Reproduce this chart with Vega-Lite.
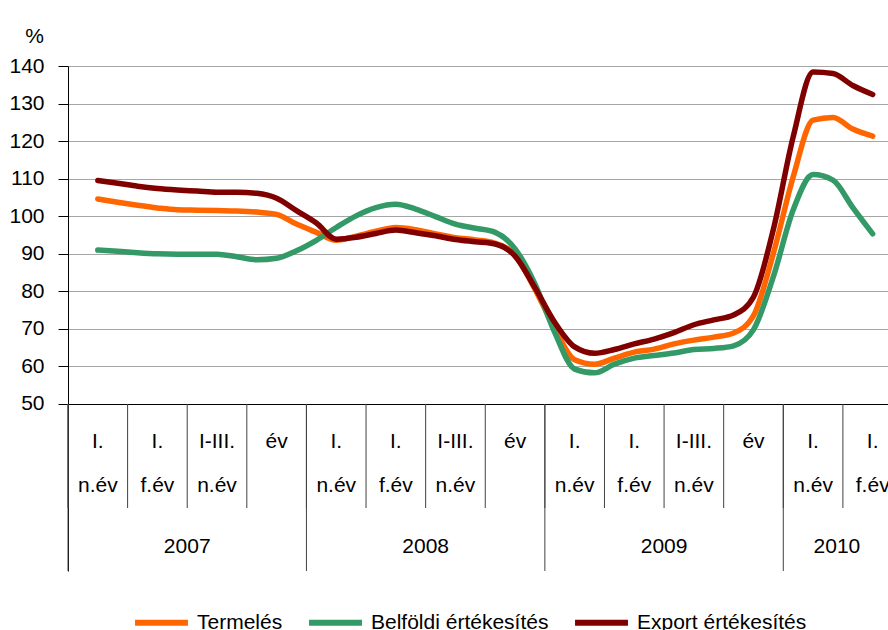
{
  "$schema": "https://vega.github.io/schema/vega-lite/v6.json",
  "width": 820,
  "height": 505,
  "autosize": {"type": "none"},
  "padding": {"left": 68, "top": 66, "right": 0, "bottom": 59},
  "background": "white",
  "config": {
    "view": {"stroke": null},
    "font": "Liberation Sans, Arial, sans-serif"
  },
  "datasets": {
    "series": [
      {"month":0,"series":"Termelés","value":104.6},{"month":1,"series":"Termelés","value":103.7},{"month":2,"series":"Termelés","value":102.9},{"month":3,"series":"Termelés","value":102.2},{"month":4,"series":"Termelés","value":101.7},{"month":5,"series":"Termelés","value":101.6},{"month":6,"series":"Termelés","value":101.5},{"month":7,"series":"Termelés","value":101.4},{"month":8,"series":"Termelés","value":101.1},{"month":9,"series":"Termelés","value":100.5},{"month":10,"series":"Termelés","value":97.9},{"month":11,"series":"Termelés","value":95.7},{"month":12,"series":"Termelés","value":93.6},{"month":13,"series":"Termelés","value":94.7},{"month":14,"series":"Termelés","value":96.0},{"month":15,"series":"Termelés","value":97.0},{"month":16,"series":"Termelés","value":96.4},{"month":17,"series":"Termelés","value":95.3},{"month":18,"series":"Termelés","value":94.3},{"month":19,"series":"Termelés","value":93.7},{"month":20,"series":"Termelés","value":92.8},{"month":21,"series":"Termelés","value":89.6},{"month":22,"series":"Termelés","value":80.6},{"month":23,"series":"Termelés","value":70.1},{"month":24,"series":"Termelés","value":61.8},{"month":25,"series":"Termelés","value":60.6},{"month":26,"series":"Termelés","value":62.2},{"month":27,"series":"Termelés","value":63.8},{"month":28,"series":"Termelés","value":64.6},{"month":29,"series":"Termelés","value":66.0},{"month":30,"series":"Termelés","value":67.0},{"month":31,"series":"Termelés","value":67.8},{"month":32,"series":"Termelés","value":68.9},{"month":33,"series":"Termelés","value":73.5},{"month":34,"series":"Termelés","value":90.1},{"month":35,"series":"Termelés","value":110.5},{"month":36,"series":"Termelés","value":125.6},{"month":37,"series":"Termelés","value":126.3},{"month":38,"series":"Termelés","value":123.2},{"month":39,"series":"Termelés","value":121.3},
      {"month":0,"series":"Belföldi értékesítés","value":91.0},{"month":1,"series":"Belföldi értékesítés","value":90.7},{"month":2,"series":"Belföldi értékesítés","value":90.3},{"month":3,"series":"Belföldi értékesítés","value":90.0},{"month":4,"series":"Belföldi értékesítés","value":89.9},{"month":5,"series":"Belföldi értékesítés","value":89.9},{"month":6,"series":"Belföldi értékesítés","value":89.9},{"month":7,"series":"Belföldi értékesítés","value":89.2},{"month":8,"series":"Belföldi értékesítés","value":88.4},{"month":9,"series":"Belföldi értékesítés","value":88.8},{"month":10,"series":"Belföldi értékesítés","value":90.8},{"month":11,"series":"Belföldi értékesítés","value":93.6},{"month":12,"series":"Belföldi értékesítés","value":97.0},{"month":13,"series":"Belföldi értékesítés","value":100.1},{"month":14,"series":"Belföldi értékesítés","value":102.3},{"month":15,"series":"Belföldi értékesítés","value":103.2},{"month":16,"series":"Belföldi értékesítés","value":101.9},{"month":17,"series":"Belföldi értékesítés","value":99.9},{"month":18,"series":"Belföldi értékesítés","value":97.9},{"month":19,"series":"Belföldi értékesítés","value":96.8},{"month":20,"series":"Belföldi értékesítés","value":95.7},{"month":21,"series":"Belföldi értékesítés","value":91.3},{"month":22,"series":"Belföldi értékesítés","value":82.0},{"month":23,"series":"Belföldi értékesítés","value":69.0},{"month":24,"series":"Belföldi értékesítés","value":59.3},{"month":25,"series":"Belföldi értékesítés","value":58.3},{"month":26,"series":"Belföldi értékesítés","value":60.6},{"month":27,"series":"Belföldi értékesítés","value":62.2},{"month":28,"series":"Belföldi értékesítés","value":62.9},{"month":29,"series":"Belföldi értékesítés","value":63.6},{"month":30,"series":"Belföldi értékesítés","value":64.5},{"month":31,"series":"Belföldi értékesítés","value":64.8},{"month":32,"series":"Belföldi értékesítés","value":65.5},{"month":33,"series":"Belföldi értékesítés","value":69.8},{"month":34,"series":"Belföldi értékesítés","value":83.9},{"month":35,"series":"Belföldi értékesítés","value":101.7},{"month":36,"series":"Belföldi értékesítés","value":111.1},{"month":37,"series":"Belföldi értékesítés","value":109.6},{"month":38,"series":"Belföldi értékesítés","value":102.3},{"month":39,"series":"Belföldi értékesítés","value":95.3},
      {"month":0,"series":"Export értékesítés","value":109.5},{"month":1,"series":"Export értékesítés","value":108.8},{"month":2,"series":"Export értékesítés","value":108.0},{"month":3,"series":"Export értékesítés","value":107.4},{"month":4,"series":"Export értékesítés","value":107.0},{"month":5,"series":"Export értékesítés","value":106.7},{"month":6,"series":"Export értékesítés","value":106.4},{"month":7,"series":"Export értékesítés","value":106.4},{"month":8,"series":"Export értékesítés","value":106.1},{"month":9,"series":"Export értékesítés","value":104.8},{"month":10,"series":"Export értékesítés","value":101.5},{"month":11,"series":"Export értékesítés","value":98.2},{"month":12,"series":"Export értékesítés","value":93.9},{"month":13,"series":"Export értékesítés","value":94.4},{"month":14,"series":"Export értékesítés","value":95.4},{"month":15,"series":"Export értékesítés","value":96.3},{"month":16,"series":"Export értékesítés","value":95.6},{"month":17,"series":"Export értékesítés","value":94.8},{"month":18,"series":"Export értékesítés","value":93.8},{"month":19,"series":"Export értékesítés","value":93.2},{"month":20,"series":"Export értékesítés","value":92.6},{"month":21,"series":"Export értékesítés","value":89.4},{"month":22,"series":"Export értékesítés","value":81.0},{"month":23,"series":"Export értékesítés","value":71.7},{"month":24,"series":"Export értékesítés","value":65.2},{"month":25,"series":"Export értékesítés","value":63.5},{"month":26,"series":"Export értékesítés","value":64.5},{"month":27,"series":"Export értékesítés","value":66.0},{"month":28,"series":"Export értékesítés","value":67.3},{"month":29,"series":"Export értékesítés","value":69.0},{"month":30,"series":"Export értékesítés","value":71.1},{"month":31,"series":"Export értékesítés","value":72.4},{"month":32,"series":"Export értékesítés","value":73.7},{"month":33,"series":"Export értékesítés","value":78.5},{"month":34,"series":"Export értékesítés","value":96.5},{"month":35,"series":"Export értékesítés","value":121.2},{"month":36,"series":"Export értékesítés","value":138.4},{"month":37,"series":"Export értékesítés","value":138.0},{"month":38,"series":"Export értékesítés","value":134.8},{"month":39,"series":"Export értékesítés","value":132.4}
    ],
    "cats": [
      {"month":0,"from":-1.5,"label":"I.\nn.év"},
      {"month":3,"from":1.5,"label":"I.\nf.év"},
      {"month":6,"from":4.5,"label":"I-III.\nn.év"},
      {"month":9,"from":7.5,"label":"év"},
      {"month":12,"from":10.5,"label":"I.\nn.év"},
      {"month":15,"from":13.5,"label":"I.\nf.év"},
      {"month":18,"from":16.5,"label":"I-III.\nn.év"},
      {"month":21,"from":19.5,"label":"év"},
      {"month":24,"from":22.5,"label":"I.\nn.év"},
      {"month":27,"from":25.5,"label":"I.\nf.év"},
      {"month":30,"from":28.5,"label":"I-III.\nn.év"},
      {"month":33,"from":31.5,"label":"év"},
      {"month":36,"from":34.5,"label":"I.\nn.év"},
      {"month":39,"from":37.5,"label":"I.\nf.év"}
    ],
    "years": [
      {"year":"2007","from":-1.5,"mid":4.5},
      {"year":"2008","from":10.5,"mid":16.5},
      {"year":"2009","from":22.5,"mid":28.5},
      {"year":"2010","from":34.5,"mid":37.2}
    ]
  },
  "layer": [
    {
      "data": {"name": "series"},
      "transform": [{"filter": "datum.series === 'Termelés'"}],
      "mark": {"type": "line", "strokeWidth": 5.5, "interpolate": "monotone", "strokeCap": "round"},
      "encoding": {
        "x": {"field": "month", "type": "quantitative", "scale": {"domain": [-1.5, 39.77], "nice": false, "zero": false}, "axis": null},
        "y": {
          "field": "value", "type": "quantitative",
          "scale": {"domain": [5.53, 140], "nice": false, "zero": false},
          "axis": {
            "values": [50, 60, 70, 80, 90, 100, 110, 120, 130, 140],
            "grid": true,
            "gridColor": {"condition": {"test": "datum.value === 50", "value": "black"}, "value": "#a6a6a6"},
            "gridWidth": 1,
            "domainColor": "black",
            "domainWidth": 1,
            "tickColor": "black",
            "tickSize": 10,
            "labelFontSize": 21,
            "labelColor": "black",
            "labelPadding": 14,
            "title": "%",
            "titleAngle": 0,
            "titleX": -34,
            "titleY": -24,
            "titleAlign": "center",
            "titleBaseline": "alphabetic",
            "titleFontSize": 21,
            "titleFontWeight": "normal",
            "titleColor": "black"
          }
        },
        "color": {
          "field": "series", "type": "nominal",
          "scale": {"domain": ["Termelés", "Belföldi értékesítés", "Export értékesítés"], "range": ["#FF6600", "#339966", "#800000"]},
          "legend": {
            "title": null,
            "orient": "none",
            "direction": "horizontal",
            "legendX": 64,
            "legendY": 527,
            "symbolType": "stroke",
            "symbolSize": 2800,
            "symbolStrokeWidth": 6,
            "labelFontSize": 21,
            "labelColor": "black",
            "labelOffset": 6,
            "columnPadding": 14,
            "labelLimit": 400
          }
        }
      }
    },
    {
      "data": {"name": "series"},
      "transform": [{"filter": "datum.series === 'Belföldi értékesítés'"}],
      "mark": {"type": "line", "strokeWidth": 5.5, "interpolate": "monotone", "strokeCap": "round"},
      "encoding": {
        "x": {"field": "month", "type": "quantitative", "axis": null},
        "y": {"field": "value", "type": "quantitative"},
        "color": {"field": "series", "type": "nominal"}
      }
    },
    {
      "data": {"name": "series"},
      "transform": [{"filter": "datum.series === 'Export értékesítés'"}],
      "mark": {"type": "line", "strokeWidth": 5.5, "interpolate": "monotone", "strokeCap": "round"},
      "encoding": {
        "x": {"field": "month", "type": "quantitative", "axis": null},
        "y": {"field": "value", "type": "quantitative"},
        "color": {"field": "series", "type": "nominal"}
      }
    },
    {
      "data": {"name": "cats"},
      "mark": {"type": "rule", "color": "#404040", "strokeWidth": 1},
      "encoding": {
        "x": {"field": "from", "type": "quantitative", "axis": null},
        "y": {"datum": 50, "type": "quantitative"},
        "y2": {"datum": 22.3}
      }
    },
    {
      "data": {"name": "years"},
      "mark": {"type": "rule", "color": "#404040", "strokeWidth": 1},
      "encoding": {
        "x": {"field": "from", "type": "quantitative", "axis": null},
        "y": {"datum": 50, "type": "quantitative"},
        "y2": {"datum": 5.53}
      }
    },
    {
      "data": {"name": "cats"},
      "mark": {"type": "text", "fontSize": 21, "color": "black", "align": "center", "baseline": "alphabetic", "lineBreak": "\n", "lineHeight": 44},
      "encoding": {
        "x": {"field": "month", "type": "quantitative", "axis": null},
        "y": {"datum": 38.3, "type": "quantitative"},
        "text": {"field": "label"}
      }
    },
    {
      "data": {"name": "years"},
      "mark": {"type": "text", "fontSize": 21, "color": "black", "align": "center", "baseline": "alphabetic"},
      "encoding": {
        "x": {"field": "mid", "type": "quantitative", "axis": null},
        "y": {"datum": 10.3, "type": "quantitative"},
        "text": {"field": "year"}
      }
    }
  ]
}
